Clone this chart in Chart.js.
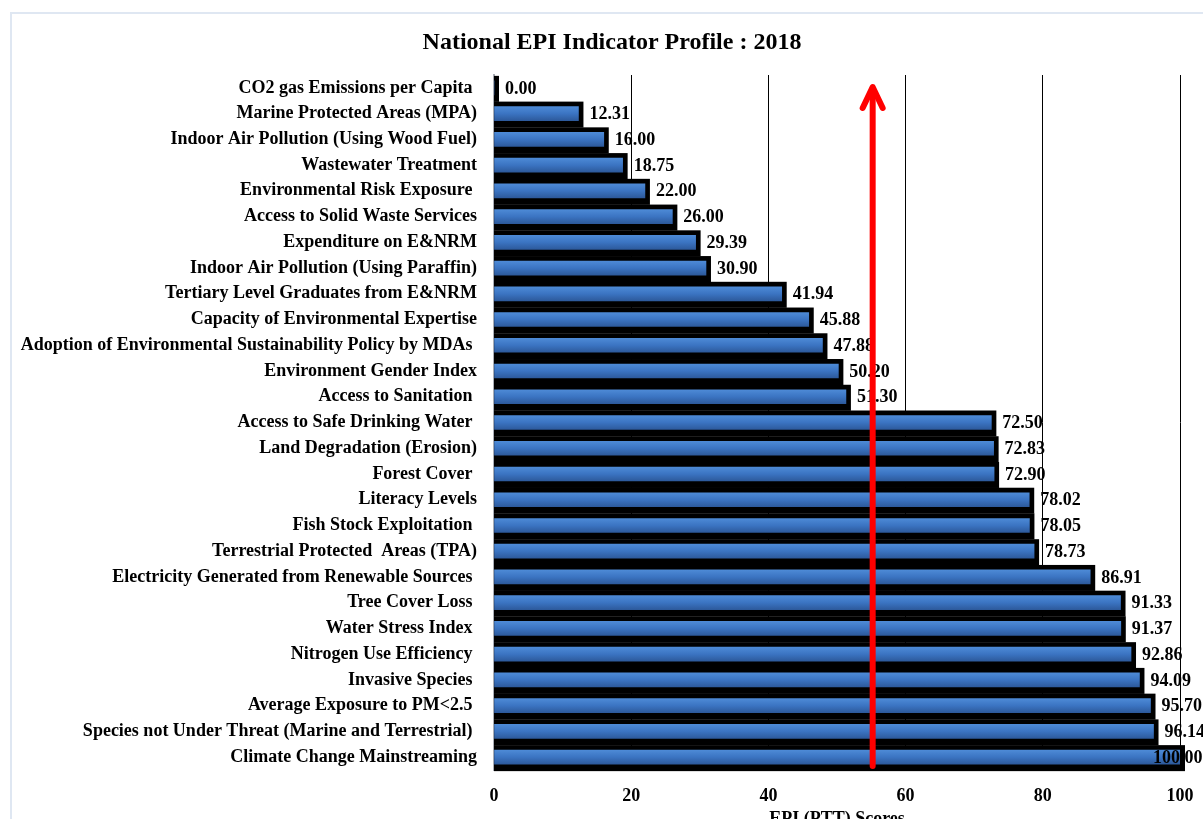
<!DOCTYPE html>
<html lang="en">
<head>
    <meta charset="UTF-8">
    <title>National EPI Indicator Profile : 2018</title>
    <script src="https://cdn.jsdelivr.net/npm/chart.js"></script>
    <style>
        html, body { margin: 0; padding: 0; background: #fff; overflow: hidden; }
        .frame {
            position: absolute; left: 10px; top: 12px;
            width: 1210px; height: 830px;
            border: 2px solid #dfe7f2;
        }
        .wrap { position: absolute; left: 0; top: 0; width: 1224px; height: 830px; }
    </style>
</head>
<body>
    <div class="frame"></div>
    <div class="wrap"><canvas id="chart"></canvas></div>

    <script>
        const chartTitle = 'National EPI Indicator Profile : 2018';

        // indicators, top to bottom as in the original chart
        const indicators = [
            "CO2 gas Emissions per Capita ",
            "Marine Protected Areas (MPA)",
            "Indoor Air Pollution (Using Wood Fuel)",
            "Wastewater Treatment",
            "Environmental Risk Exposure ",
            "Access to Solid Waste Services",
            "Expenditure on E&NRM",
            "Indoor Air Pollution (Using Paraffin)",
            "Tertiary Level Graduates from E&NRM",
            "Capacity of Environmental Expertise",
            "Adoption of Environmental Sustainability Policy by MDAs ",
            "Environment Gender Index",
            "Access to Sanitation ",
            "Access to Safe Drinking Water ",
            "Land Degradation (Erosion)",
            "Forest Cover ",
            "Literacy Levels",
            "Fish Stock Exploitation ",
            "Terrestrial Protected  Areas (TPA)",
            "Electricity Generated from Renewable Sources ",
            "Tree Cover Loss ",
            "Water Stress Index ",
            "Nitrogen Use Efficiency ",
            "Invasive Species ",
            "Average Exposure to PM<2.5 ",
            "Species not Under Threat (Marine and Terrestrial) ",
            "Climate Change Mainstreaming"
        ];
        const scores = [
            0.00, 12.31, 16.00, 18.75, 22.00, 26.00, 29.39, 30.90, 41.94,
            45.88, 47.88, 50.20, 51.30, 72.50, 72.83, 72.90, 78.02, 78.05,
            78.73, 86.91, 91.33, 91.37, 92.86, 94.09, 95.70, 96.14, 100.00
        ];
        const xTicks = [0, 20, 40, 60, 80, 100];
        const arrowAt = 55.2;   // red marker arrow

        const serif = "'Liberation Serif', 'Times New Roman', serif";

        function barGradient(ctx) {
            const chart = ctx.chart;
            if (!chart.chartArea || ctx.type !== 'data') return '#3b76c4';
            const y = chart.scales.y.getPixelForValue(ctx.dataIndex);
            const g = chart.ctx.createLinearGradient(0, y - 7, 0, y + 7);
            g.addColorStop(0, '#4d8ad6');
            g.addColorStop(0.5, '#3b74c2');
            g.addColorStop(1, '#2d5a9c');
            return g;
        }

        // title centred on the whole frame, not on the plot
        const titlePlugin = {
            id: 'frameTitle',
            afterDraw(chart) {
                const ctx = chart.ctx;
                ctx.save();
                ctx.font = 'bold 24px ' + serif;
                ctx.fillStyle = '#000';
                ctx.textAlign = 'center';
                ctx.textBaseline = 'middle';
                ctx.fillText(chartTitle, chart.width / 2, 43);
                ctx.restore();
            }
        };

        // black drop shadow behind each bar
        const shadowPlugin = {
            id: 'shadow',
            beforeDatasetsDraw(chart) {
                const ctx = chart.ctx;
                const base = chart.scales.x.getPixelForValue(0);
                ctx.save();
                ctx.fillStyle = '#000';
                chart.getDatasetMeta(0).data.forEach(bar => {
                    ctx.fillRect(base, bar.y - 12, bar.x + 5 - base, 26);
                });
                ctx.restore();
            }
        };

        // value labels + red arrow
        const labelPlugin = {
            id: 'labels',
            afterDatasetsDraw(chart) {
                const ctx = chart.ctx;
                const area = chart.chartArea;
                ctx.save();
                ctx.font = 'bold 18px ' + serif;
                ctx.fillStyle = '#000';
                ctx.textBaseline = 'middle';
                ctx.textAlign = 'left';
                chart.getDatasetMeta(0).data.forEach((bar, i) => {
                    let x = bar.x + 11;
                    if (x > area.right) x = area.right - 27;
                    ctx.fillText(scores[i].toFixed(2), x, bar.y + 1);
                });

                const ax = chart.scales.x.getPixelForValue(arrowAt);
                const tipY = area.top + 12;
                ctx.strokeStyle = '#ff0000';
                ctx.lineWidth = 6;
                ctx.lineCap = 'round';
                ctx.lineJoin = 'round';
                ctx.beginPath();
                ctx.moveTo(ax, area.bottom - 4);
                ctx.lineTo(ax, tipY + 2);
                ctx.stroke();
                ctx.beginPath();
                ctx.moveTo(ax - 10, tipY + 21);
                ctx.lineTo(ax, tipY);
                ctx.lineTo(ax + 10, tipY + 21);
                ctx.stroke();
                ctx.restore();
            }
        };

        new Chart(document.getElementById('chart'), {
            type: 'bar',
            data: {
                labels: indicators,
                datasets: [{
                    data: scores,
                    backgroundColor: barGradient,
                    borderWidth: 0,
                    barThickness: 14
                }]
            },
            options: {
                indexAxis: 'y',
                responsive: true,
                maintainAspectRatio: false,
                animation: false,
                layout: { padding: { left: 0, right: 44, top: 75, bottom: 0 } },
                plugins: {
                    legend: { display: false },
                    tooltip: { enabled: false },
                    title: { display: false }
                },
                scales: {
                    x: {
                        min: 0,
                        max: 100,
                        afterBuildTicks: s => { s.ticks = xTicks.map(v => ({ value: v })); },
                        afterFit: s => { s.height = 60; },
                        ticks: {
                            color: '#000',
                            padding: 16,
                            font: { family: serif, size: 18, weight: 'bold' }
                        },
                        grid: {
                            drawTicks: false,
                            color: c => c.tick && c.tick.value === 0 ? 'rgba(0,0,0,0)' : '#000',
                            lineWidth: 1
                        },
                        border: { display: false },
                        title: {
                            display: true,
                            text: 'EPI (PTT) Scores',
                            color: '#000',
                            font: { family: serif, size: 18, weight: 'bold' },
                            padding: { top: 11, bottom: 0 }
                        }
                    },
                    y: {
                        afterFit: s => { s.width = 494; },
                        ticks: {
                            color: '#000',
                            padding: 17,
                            autoSkip: false,
                            font: { family: serif, size: 18, weight: 'bold' }
                        },
                        grid: { display: false, drawTicks: false },
                        border: { display: true, color: '#a9adb5', width: 2 }
                    }
                }
            },
            plugins: [shadowPlugin, labelPlugin, titlePlugin]
        });
    </script>
</body>
</html>
